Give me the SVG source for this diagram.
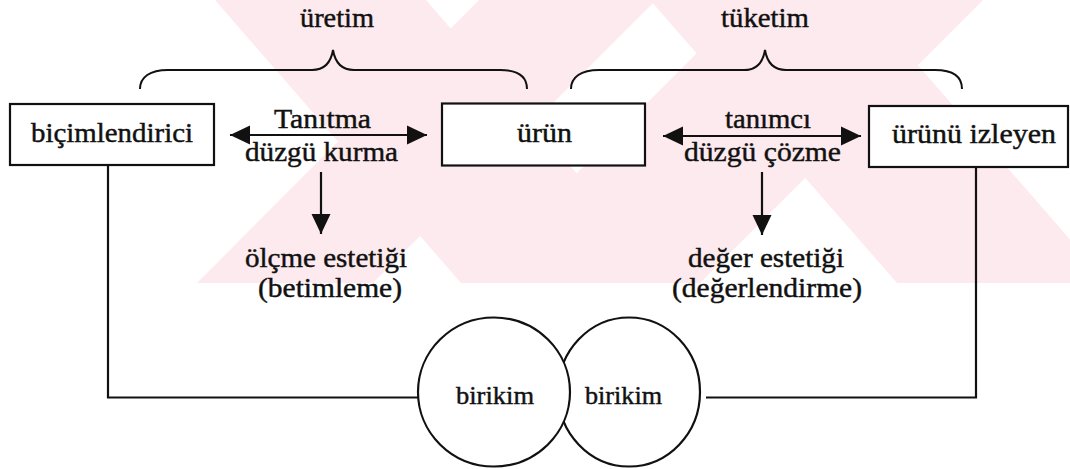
<svg xmlns="http://www.w3.org/2000/svg" width="1070" height="469" viewBox="0 0 1070 469">
  <style>
    .box { fill: #ffffff; stroke: #111111; stroke-width: 2.2; }
    .line { fill: none; stroke: #111111; stroke-width: 2.2; }
    .brace { fill: none; stroke: #111111; stroke-width: 2; }
    .txt { font-family: "Liberation Serif", "Times New Roman", serif; font-size: 28px; fill: #111111; stroke: #111111; stroke-width: 0.45; }
    .small { font-size: 26px; }
    .wm { fill: #fdeaee; }
  </style>
  <defs>
    <marker id="ah" markerUnits="userSpaceOnUse" markerWidth="20" markerHeight="20" viewBox="0 0 20 20" refX="20" refY="10" orient="auto-start-reverse">
      <path d="M0,0.5 L20,10 L0,19.5 Z" fill="#111111"/>
    </marker>
    <clipPath id="wmclip"><rect x="0" y="0" width="1070" height="283"/></clipPath>
  </defs>
  <rect x="0" y="0" width="1070" height="469" fill="#ffffff"/>
  <g id="watermark" clip-path="url(#wmclip)">
    <polygon class="wm" points="197,283 373,283 656,0 479,0"/>
    <polygon class="wm" points="215,0 426,0 672,283 461,283"/>
    <polygon class="wm" points="467,283 700,283 983,0 750,0"/>
    <polygon class="wm" points="650,0 861,0 1108,283 897,283"/>
  </g>
  <g id="braces">
    <path class="brace" d="M140,89 C140,77 150,70 168,70 L312,70 C325,70 331,62 333,50 C335,62 341,70 354,70 L500,70 C518,70 527,77 527,89"/>
    <path class="brace" d="M571,89 C571,77 581,70 599,70 L744,70 C757,70 763,62 765,50 C767,62 773,70 786,70 L935,70 C953,70 962,77 962,89"/>
    <text class="txt" x="300" y="27" textLength="74" lengthAdjust="spacingAndGlyphs">üretim</text>
    <text class="txt" x="721" y="27" textLength="88" lengthAdjust="spacingAndGlyphs">tüketim</text>
  </g>
  <g id="connectors">
    <line class="line" x1="230" y1="135" x2="427" y2="135" marker-start="url(#ah)" marker-end="url(#ah)"/>
    <line class="line" x1="663" y1="136" x2="861" y2="136" marker-start="url(#ah)" marker-end="url(#ah)"/>
    <line class="line" x1="321" y1="172" x2="321" y2="234" marker-end="url(#ah)"/>
    <line class="line" x1="762" y1="172" x2="762" y2="235" marker-end="url(#ah)"/>
    <polyline class="line" points="108,165 108,397.5 418,397.5"/>
    <polyline class="line" points="976,167 976,397.5 706,397.5"/>
  </g>
  <g id="node-bicimlendirici">
    <rect class="box" x="10" y="104" width="204" height="61"/>
    <text class="txt" x="31" y="142" textLength="162" lengthAdjust="spacingAndGlyphs">biçimlendirici</text>
  </g>
  <g id="node-urun">
    <rect class="box" x="442" y="103.5" width="203" height="62"/>
    <text class="txt" x="517" y="142" textLength="55" lengthAdjust="spacingAndGlyphs">ürün</text>
  </g>
  <g id="node-urunu-izleyen">
    <rect class="box" x="869" y="106" width="199" height="61"/>
    <text class="txt" x="892" y="143" textLength="164" lengthAdjust="spacingAndGlyphs">ürünü izleyen</text>
  </g>
  <g id="labels">
    <text class="txt" x="274" y="128" textLength="97" lengthAdjust="spacingAndGlyphs">Tanıtma</text>
    <text class="txt" x="245" y="161" textLength="153" lengthAdjust="spacingAndGlyphs">düzgü kurma</text>
    <text class="txt" x="725" y="128" textLength="86" lengthAdjust="spacingAndGlyphs">tanımcı</text>
    <text class="txt" x="684" y="161" textLength="157" lengthAdjust="spacingAndGlyphs">düzgü çözme</text>
  </g>
  <g id="node-olcme-estetigi">
    <text class="txt" x="245" y="267" textLength="162" lengthAdjust="spacingAndGlyphs">ölçme estetiği</text>
    <text class="txt" x="258" y="297" textLength="144" lengthAdjust="spacingAndGlyphs">(betimleme)</text>
  </g>
  <g id="node-deger-estetigi">
    <text class="txt" x="688" y="267" textLength="156" lengthAdjust="spacingAndGlyphs">değer estetiği</text>
    <text class="txt" x="672" y="297" textLength="190" lengthAdjust="spacingAndGlyphs">(değerlendirme)</text>
  </g>
  <g id="node-birikim-2">
    <ellipse class="box" cx="629" cy="392" rx="71" ry="74.5"/>
    <text class="txt small" x="585" y="404" textLength="77" lengthAdjust="spacingAndGlyphs">birikim</text>
  </g>
  <g id="node-birikim-1">
    <ellipse class="box" cx="494" cy="392" rx="76" ry="74.5"/>
    <text class="txt small" x="456" y="404" textLength="78" lengthAdjust="spacingAndGlyphs">birikim</text>
  </g>
</svg>
